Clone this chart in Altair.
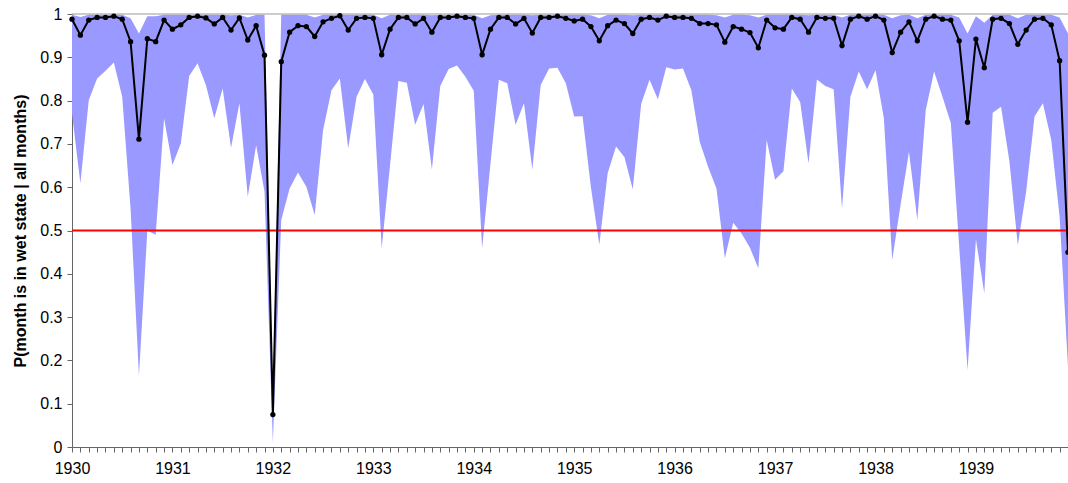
import altair as alt
import pandas as pd

start_year = 1930
n_months = 120

mean_prob = [
    0.988, 0.951, 0.986, 0.992, 0.992, 0.995, 0.988, 0.936, 0.711, 0.943,
    0.936, 0.986, 0.965, 0.975, 0.992, 0.995, 0.991, 0.977, 0.992, 0.963,
    0.991, 0.940, 0.973, 0.905, 0.075, 0.890, 0.958, 0.973, 0.971, 0.948,
    0.982, 0.990, 0.996, 0.963, 0.990, 0.992, 0.990, 0.906, 0.965, 0.992,
    0.992, 0.977, 0.990, 0.958, 0.992, 0.992, 0.995, 0.992, 0.990, 0.906,
    0.965, 0.992, 0.992, 0.977, 0.990, 0.956, 0.992, 0.992, 0.995, 0.990,
    0.984, 0.988, 0.971, 0.938, 0.973, 0.986, 0.978, 0.955, 0.988, 0.992,
    0.986, 0.995, 0.992, 0.992, 0.990, 0.978, 0.978, 0.975, 0.935, 0.971,
    0.965, 0.957, 0.922, 0.986, 0.968, 0.965, 0.992, 0.988, 0.958, 0.992,
    0.990, 0.990, 0.927, 0.988, 0.995, 0.988, 0.995, 0.986, 0.911, 0.958,
    0.982, 0.938, 0.988, 0.995, 0.988, 0.986, 0.938, 0.750, 0.942, 0.876,
    0.988, 0.990, 0.978, 0.930, 0.963, 0.988, 0.990, 0.975, 0.892, 0.450,
]

lower_prob = [
    0.770, 0.609, 0.801, 0.851, 0.869, 0.888, 0.809, 0.550, 0.165, 0.500,
    0.490, 0.759, 0.651, 0.701, 0.857, 0.886, 0.836, 0.759, 0.828, 0.691,
    0.794, 0.578, 0.697, 0.590, 0.010, 0.524, 0.597, 0.634, 0.601, 0.536,
    0.732, 0.824, 0.851, 0.690, 0.809, 0.850, 0.814, 0.459, 0.651, 0.845,
    0.841, 0.744, 0.792, 0.641, 0.834, 0.873, 0.881, 0.855, 0.823, 0.459,
    0.655, 0.848, 0.840, 0.744, 0.794, 0.641, 0.836, 0.874, 0.876, 0.840,
    0.763, 0.764, 0.600, 0.467, 0.632, 0.694, 0.670, 0.595, 0.792, 0.848,
    0.803, 0.877, 0.872, 0.874, 0.824, 0.705, 0.647, 0.597, 0.436, 0.518,
    0.493, 0.460, 0.413, 0.709, 0.617, 0.637, 0.828, 0.797, 0.655, 0.849,
    0.834, 0.826, 0.551, 0.809, 0.867, 0.826, 0.870, 0.759, 0.432, 0.560,
    0.682, 0.524, 0.778, 0.867, 0.809, 0.748, 0.463, 0.178, 0.480, 0.355,
    0.772, 0.786, 0.660, 0.466, 0.590, 0.763, 0.794, 0.709, 0.532, 0.185,
]

upper_prob = [
    0.998, 0.993, 0.998, 0.998, 0.998, 0.998, 0.998, 0.990, 0.955, 0.995,
    0.995, 0.998, 0.998, 0.998, 0.998, 0.998, 0.998, 0.998, 0.998, 0.997,
    0.998, 0.992, 0.998, 0.998, 0.120, 0.998, 0.998, 0.998, 0.998, 0.992,
    0.998, 0.998, 0.998, 0.998, 0.998, 0.998, 0.998, 0.990, 0.998, 0.998,
    0.998, 0.998, 0.998, 0.997, 0.998, 0.998, 0.998, 0.998, 0.998, 0.990,
    0.997, 0.998, 0.998, 0.998, 0.998, 0.997, 0.998, 0.998, 0.998, 0.998,
    0.998, 0.998, 0.997, 0.990, 0.998, 0.998, 0.998, 0.997, 0.998, 0.998,
    0.998, 0.998, 0.998, 0.998, 0.998, 0.998, 0.998, 0.997, 0.992, 0.998,
    0.998, 0.997, 0.992, 0.998, 0.998, 0.998, 0.998, 0.998, 0.997, 0.998,
    0.998, 0.998, 0.992, 0.998, 0.998, 0.998, 0.998, 0.998, 0.990, 0.997,
    0.998, 0.990, 0.998, 0.998, 0.998, 0.998, 0.992, 0.955, 0.995, 0.980,
    0.998, 0.998, 0.998, 0.990, 0.998, 0.998, 0.998, 0.998, 0.992, 0.955,
]

y_ticks = [0, 0.1, 0.2, 0.3, 0.4, 0.5, 0.6, 0.7, 0.8, 0.9, 1]
threshold = [0.5]

t = [start_year + i / 12 for i in range(n_months)]
df = pd.DataFrame({"t": t, "mean": mean_prob, "lower": lower_prob, "upper": upper_prob})

x_scale = alt.Scale(domain=[t[0], t[-1]], nice=False, zero=False)
y_scale = alt.Scale(domain=[0, 1], nice=False, zero=False)

common = dict(
    grid=False,
    tickSize=5,
    domainColor="#666666",
    tickColor="#666666",
    labelColor="black",
    labelFont="Liberation Sans",
    labelFontSize=16,
    titleFont="Liberation Sans",
    titleFontSize=16,
    titleFontWeight="bold",
    titleColor="black",
)

x_axis = alt.Axis(
    values=t,
    labelExpr="abs(datum.value - round(datum.value)) < 0.001 ? format(round(datum.value), 'd') : ''",
    labelOverlap=False,
    labelBound=False,
    labelFlush=False,
    labelPadding=8,
    title=None,
    **common,
)
y_axis = alt.Axis(
    values=y_ticks,
    format=".1~f",
    labelPadding=5,
    title="P(month is in wet state | all months)",
    titlePadding=11,
    **common,
)

X = alt.X("t:Q", scale=x_scale, axis=x_axis)

base = alt.Chart(df)

band = base.mark_area(color="#9999ff", opacity=1).encode(
    x=X,
    y=alt.Y("lower:Q", scale=y_scale, axis=y_axis),
    y2="upper:Q",
)

red = alt.Chart(pd.DataFrame({"v": threshold})).mark_rule(color="#ff0000", strokeWidth=2).encode(
    y=alt.Y("v:Q", scale=y_scale, axis=y_axis)
)

top_line = alt.Chart(pd.DataFrame({"v": [1]})).mark_rule(color="#999999", strokeWidth=1).encode(
    y=alt.Y("v:Q", scale=y_scale, axis=y_axis)
)

line = base.mark_line(color="black", strokeWidth=2).encode(
    x=X, y=alt.Y("mean:Q", scale=y_scale, axis=y_axis)
)
pts = base.mark_circle(color="black", size=28, opacity=1).encode(
    x=X, y=alt.Y("mean:Q", scale=y_scale, axis=y_axis)
)

chart = (
    alt.layer(band, red, top_line, line, pts)
    .properties(
        width=996,
        height=433,
        padding={"left": 72, "top": 14, "right": 0, "bottom": 36},
        autosize=alt.AutoSizeParams(type="none"),
    )
    .configure_view(stroke=None)
)

chart.save("out.html", embed_options={"renderer": "svg", "actions": False})
